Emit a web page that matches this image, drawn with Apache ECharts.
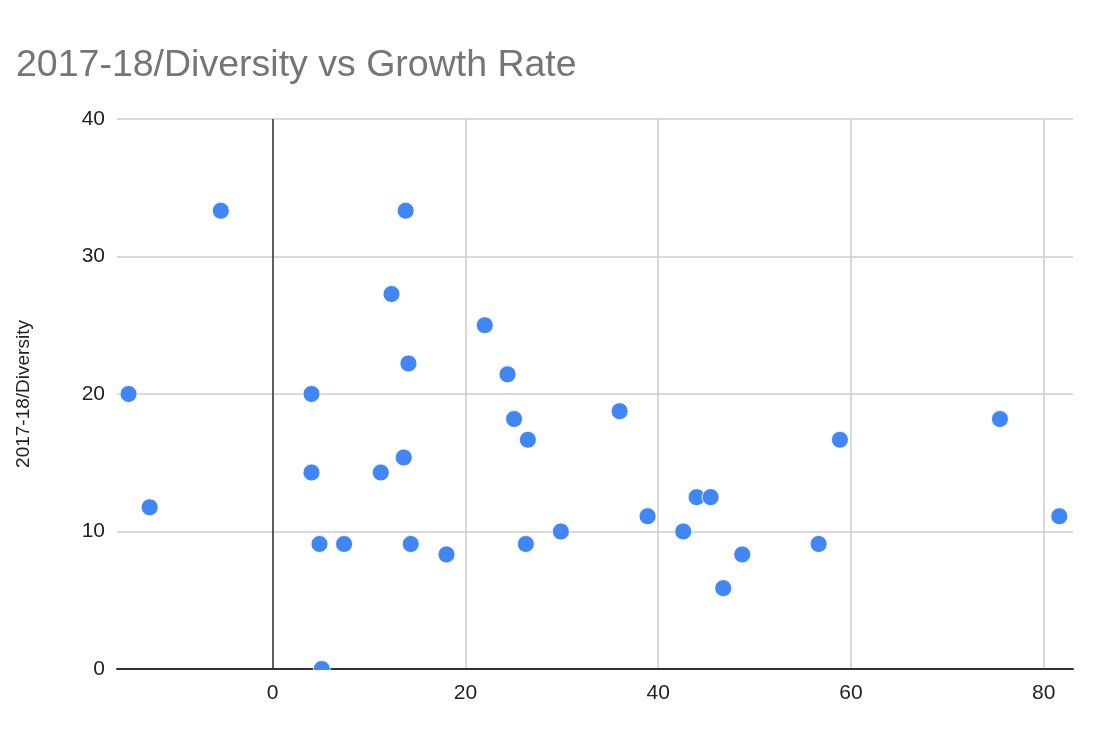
<!DOCTYPE html>
<html>
<head>
<meta charset="utf-8">
<script src="https://cdn.jsdelivr.net/npm/echarts@6/dist/echarts.min.js"></script>
<style>html,body{margin:0;padding:0;background:#fff}#c{width:1101px;height:733px}</style>
</head>
<body>
<div id="c"></div>
<script>
const titleText = "2017-18/Diversity vs Growth Rate";
const yAxisName = "2017-18/Diversity";
const growthRate = [-14.95, -12.76, -5.38, 4.03, 4.03, 4.86, 5.1, 7.41, 11.22, 12.33, 13.6, 13.8, 14.09, 14.33, 18.04, 22.01, 24.37, 25.05, 26.27, 26.48, 29.9, 36.0, 38.9, 42.6, 43.99, 45.44, 46.75, 48.72, 56.65, 58.86, 75.46, 81.62];
const diversity = [20, 11.76, 33.33, 20, 14.29, 9.09, 0, 9.09, 14.29, 27.27, 15.38, 33.33, 22.22, 9.09, 8.33, 25, 21.43, 18.18, 9.09, 16.67, 10, 18.75, 11.11, 10, 12.5, 12.5, 5.88, 8.33, 9.09, 16.67, 18.18, 11.11];
const points = growthRate.map((x, i) => [x, diversity[i]]);
const xMin = -16.15, xMax = 83.04;

function buildOption(graphic) {
  return {
    animation: false,
    backgroundColor: '#fff',
    title: {
      text: titleText, left: 11, top: 42,
      textStyle: { fontFamily: 'Liberation Sans, Arial', fontSize: 37.5, fontWeight: 'normal', color: '#757575' }
    },
    grid: { left: 117, right: 28, top: 119, bottom: 64 },
    xAxis: {
      type: 'value', min: xMin, max: xMax,
      axisLine: { show: true, lineStyle: { color: '#333', width: 2 } },
      axisTick: { show: false },
      axisLabel: { showMinLabel: false, showMaxLabel: false, margin: 14, fontFamily: 'Liberation Sans, Arial', fontSize: 21, color: '#222' },
      splitLine: { show: true, showMinLine: false, showMaxLine: false, lineStyle: { color: '#cccccc', width: 1.5 } }
    },
    yAxis: {
      type: 'value', min: 0, max: 40, interval: 10,
      name: yAxisName, nameLocation: 'middle', nameGap: 84,
      nameTextStyle: { fontFamily: 'Liberation Sans, Arial', fontSize: 19, color: '#222' },
      axisLine: { show: false },
      axisTick: { show: false },
      axisLabel: { margin: 12, fontFamily: 'Liberation Sans, Arial', fontSize: 21, color: '#222' },
      splitLine: { show: true, lineStyle: { color: '#cccccc', width: 1.5 } }
    },
    graphic: graphic,
    series: [{
      type: 'scatter',
      data: points,
      symbolSize: 17,
      clip: true,
      itemStyle: { color: '#4285F4', borderColor: '#fff', borderWidth: 0.8, opacity: 1 },
      markLine: {
        silent: true, symbol: 'none', label: { show: false }, animation: false,
        lineStyle: { color: '#333', width: 1.5, type: 'solid', opacity: 1 },
        data: [{ xAxis: 0 }]
      },
      z: 3
    }]
  };
}

const chart = echarts.init(document.getElementById('c'));
chart.setOption(buildOption([]));
// Thin white mask just below the x axis line so markers sitting on the axis are cut at it
const p0 = chart.convertToPixel({ gridIndex: 0 }, [xMin, 0]);
const p1 = chart.convertToPixel({ gridIndex: 0 }, [xMax, 0]);
chart.setOption(buildOption([{
  type: 'rect', z: 5, silent: true,
  shape: { x: p0[0] + 2, y: p0[1] + 1, width: p1[0] - p0[0] - 2, height: 10 },
  style: { fill: '#fff' }
}]), true);
</script>
</body>
</html>
